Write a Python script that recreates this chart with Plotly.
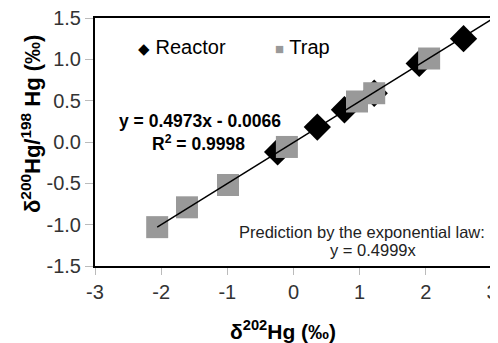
import plotly.graph_objects as go

reactor_x = [2.57, 1.90, 1.22, 0.77, 0.36, -0.24]
reactor_y = [1.25, 0.95, 0.59, 0.39, 0.18, -0.12]
trap_x = [2.05, 1.22, 0.96, -0.10, -0.99, -1.61, -2.06]
trap_y = [1.01, 0.59, 0.49, -0.06, -0.52, -0.79, -1.03]
slope, intercept = 0.4973, -0.0066
fit_x = [min(trap_x), 3.0]
fit_y = [slope * v + intercept for v in fit_x]
x_ticks = [-3, -2, -1, 0, 1, 2, 3]
y_ticks = [-1.5, -1.0, -0.5, 0.0, 0.5, 1.0, 1.5]

FONT = "Liberation Sans, Arial, sans-serif"
OFF = 8  # page body margin offset
W, H = 498 - OFF, 343 - OFF

fig = go.Figure()
fig.add_trace(go.Scatter(x=reactor_x, y=reactor_y, mode="markers",
                         marker=dict(symbol="diamond", size=21, color="black"),
                         name="Reactor", showlegend=False))
fig.add_trace(go.Scatter(x=trap_x, y=trap_y, mode="markers",
                         marker=dict(symbol="square", size=22, color="#999999"),
                         name="Trap", showlegend=False))
fig.add_trace(go.Scatter(x=fit_x, y=fit_y, mode="lines",
                         line=dict(color="black", width=1.5), showlegend=False))

# plot area in screen pixels: x 95..492, y 18..266
def px(xp):
    return (xp - 95) / 397.0

def py(yp):
    return (266 - yp) / 248.0

ann = [
    dict(x=px(182), y=py(47), text="<span style='font-size:15px'>◆</span> Reactor", font=dict(size=20, color="black")),
    dict(x=px(302), y=py(47), text="<span style='color:#999999;font-size:15px'>■</span> Trap", font=dict(size=20, color="black")),
    dict(x=px(200), y=py(121), text="<b>y = 0.4973x - 0.0066</b>", font=dict(size=17.5, color="black")),
    dict(x=px(198), y=py(143), text="<b>R<sup>2</sup> = 0.9998</b>", font=dict(size=17.5, color="black")),
    dict(x=px(362), y=py(232), text="Prediction by the exponential law:", font=dict(size=16.5, color="#222222")),
    dict(x=px(373), y=py(250), text="y = 0.4999x", font=dict(size=16.5, color="#222222")),
    dict(x=px(283), y=py(330), text="<b>δ<sup>202</sup>Hg (‰)</b>", font=dict(size=21, color="black")),
    dict(x=px(31), y=py(124), text="<b>δ<sup>200</sup>Hg/<sup>198</sup> Hg (‰)</b>", font=dict(size=22, color="black"), textangle=-90),
]
for a in ann:
    fig.add_annotation(xref="paper", yref="paper", showarrow=False, xanchor="center", yanchor="middle", **a)

fig.update_layout(
    width=W, height=H,
    margin=dict(l=95 - OFF, r=W - (492 - OFF), t=18 - OFF, b=H - (266 - OFF), autoexpand=False),
    paper_bgcolor="white", plot_bgcolor="white",
    font=dict(family=FONT, color="#333333"),
    xaxis=dict(range=[-3, 3], tickvals=x_ticks, ticktext=[str(v) for v in x_ticks],
               showgrid=False, zeroline=False, showline=True, linecolor="black", linewidth=2,
               mirror=True, ticks="outside", ticklen=7, tickcolor="#bbbbbb", automargin=False,
               ticklabeloverflow="allow",
               tickfont=dict(size=20, color="#333333")),
    yaxis=dict(range=[-1.5, 1.5], tickvals=y_ticks, ticktext=[f"{v:.1f}" for v in y_ticks],
               showgrid=False, zeroline=False, showline=True, linecolor="black", linewidth=2,
               mirror=True, ticks="outside", ticklen=8, tickcolor="#bbbbbb", automargin=False,
               ticklabeloverflow="allow",
               tickfont=dict(size=20, color="#333333")),
)
fig.write_html("out.html")
